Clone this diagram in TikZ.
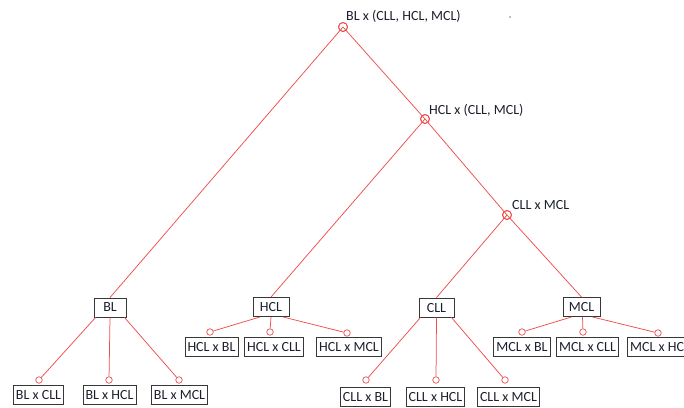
\documentclass[tikz,border=0pt]{standalone}
\usepackage{fontspec}
\setmainfont{Carlito}
\begin{document}
\begin{tikzpicture}[x=1pt,y=-1pt,
  every node/.style={font=\fontsize{14}{16}\selectfont, text=ink},
  joint/.style={circle, draw=wire, line width=0.8pt, fill=white, minimum size=9pt, inner sep=0pt},
  tip/.style={circle, draw=wire, line width=0.7pt, fill=white, minimum size=6.5pt, inner sep=0pt},
  box/.style={draw=frame, line width=0.9pt, rectangle, minimum height=19pt, inner xsep=2.5pt, inner ysep=0pt},
  lbl/.style={anchor=west, inner sep=0pt},
  link/.style={draw=wire, line width=0.75pt}]
\definecolor{wire}{RGB}{238,78,78}
\definecolor{frame}{RGB}{55,55,55}
\definecolor{ink}{RGB}{28,32,45}
\useasboundingbox (0,0) rectangle (684,407);

% branching points of the tree
\node[joint] (c1) at (343,27) {};
\node[joint] (c2) at (425,119) {};
\node[joint] (c3) at (507,215) {};
\node[lbl] (t1) at (346,16) {BL x (CLL, HCL, MCL)};
\node[lbl] (t2) at (429,110) {HCL x (CLL, MCL)};
\node[lbl] (t3) at (512,205) {CLL x MCL};

% groups
\node[box, minimum width=32pt] (bl)  at (110,307.5) {BL};
\node[box, minimum width=36pt] (hcl) at (271,307) {HCL};
\node[box, minimum width=35pt] (cll) at (436.5,307.5) {CLL};
\node[box, minimum width=37pt] (mcl) at (581.5,307) {MCL};

% pairings
\node[box] (blcll) at (38.5,395) {BL x CLL};
\node[box] (blhcl) at (109.5,395) {BL x HCL};
\node[box] (blmcl) at (179.5,395) {BL x MCL};
\node[box] (hclbl)  at (211.5,346.5) {HCL x BL};
\node[box] (hclcll) at (274,346.5) {HCL x CLL};
\node[box] (hclmcl) at (349,346.5) {HCL x MCL};
\node[box] (cllbl)  at (365.5,397) {CLL x BL};
\node[box] (cllhcl) at (435.5,397) {CLL x HCL};
\node[box] (cllmcl) at (508.5,397) {CLL x MCL};
\node[box] (mclbl)  at (522,346.5) {MCL x BL};
\node[box] (mclcll) at (587.5,346.5) {MCL x CLL};
\node[box] (mclhcl) at (660,346.5) {MCL x HCL};

% end points above the pairings
\node[tip] (e1) at (39,380) {};
\node[tip] (e2) at (109,380) {};
\node[tip] (e3) at (179,380) {};
\node[tip] (e4) at (210,332) {};
\node[tip] (e5) at (270,332) {};
\node[tip] (e6) at (347,333) {};
\node[tip] (e7) at (366,380) {};
\node[tip] (e8) at (436,380) {};
\node[tip] (e9) at (505,380) {};
\node[tip] (e10) at (522,332) {};
\node[tip] (e11) at (583,332) {};
\node[tip] (e12) at (658,333) {};

% tree links
\path[link] (c1.center) -- (bl.north);
\path[link] (c1.center) -- (c2.center);
\path[link] (c2.center) -- (hcl.north);
\path[link] (c2.center) -- (c3.center);
\path[link] (c3.center) -- (cll.north);
\path[link] (c3.center) -- (mcl.north);

\path[link] ([xshift=2pt]bl.south west) -- (e1);
\path[link] (bl.south) -- (e2);
\path[link] ([xshift=-2pt]bl.south east) -- (e3);
\path[link] ([xshift=-11pt]hcl.south) -- (e4);
\path[link] (hcl.south) -- (e5);
\path[link] ([xshift=12pt]hcl.south) -- (e6);
\path[link] ([xshift=2pt]cll.south west) -- (e7);
\path[link] (cll.south) -- (e8);
\path[link] ([xshift=-3pt]cll.south east) -- (e9);
\path[link] ([xshift=-10pt]mcl.south) -- (e10);
\path[link] ([xshift=1pt]mcl.south) -- (e11);
\path[link] ([xshift=11pt]mcl.south) -- (e12);

% circles redrawn over the links
\foreach \c in {c1,c2,c3}{\draw[wire, line width=0.8pt] (\c) circle (4.5pt);}

% stray mark near the top
\fill[gray] (510,17) circle (0.8pt);
\end{tikzpicture}
\end{document}
